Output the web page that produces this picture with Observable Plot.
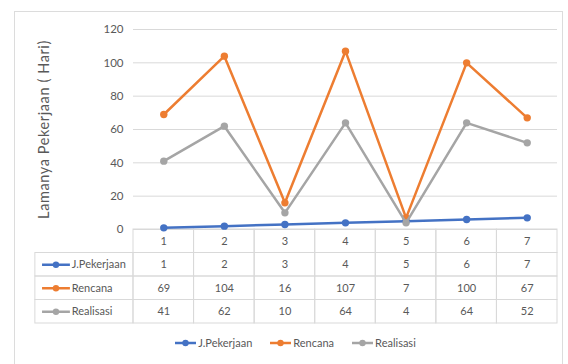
<!DOCTYPE html>
<html>
<head>
<meta charset="utf-8">
<script src="https://cdn.jsdelivr.net/npm/d3@7"></script>
<script src="https://cdn.jsdelivr.net/npm/@observablehq/plot@0.6"></script>
<style>
  html, body { margin: 0; padding: 0; background: #fff; }
  #wrap { position: relative; width: 568px; height: 364px; overflow: hidden; font-family: Lato, "Open Sans", sans-serif; }
  #frame { position: absolute; left: 14px; top: 11px; width: 549px; height: 400px; border: 1px solid #dcdcdc; box-sizing: border-box; }
  #table, #chart { position: absolute; left: 0; }
  #table { top: 228px; }
  #chart { top: 0; }
  #legend { position: absolute; top: 336px; left: 0; width: 568px; display: flex; justify-content: center; gap: 18px; font-size: 11px; color: #595959; padding-left: 23px; box-sizing: border-box; }
  #legend .item { display: flex; align-items: center; }
  #legend svg { display: block; margin-right: 2px; }
  .ytitle text { letter-spacing: 0.6px; }
</style>
</head>
<body>
<div id="wrap">
  <div id="frame"></div>
  <div id="table"></div>
  <div id="chart"></div>
  <div id="legend"></div>
</div>
<script>
const categories = [1, 2, 3, 4, 5, 6, 7];
const pekerjaan = [1, 2, 3, 4, 5, 6, 7];
const rencana = [69, 104, 16, 107, 7, 100, 67];
const realisasi = [41, 62, 10, 64, 4, 64, 52];
const seriesNames = ["J.Pekerjaan", "Rencana", "Realisasi"];
const seriesValues = [pekerjaan, rencana, realisasi];
const seriesColors = ["#4472C4", "#ED7D31", "#A5A5A5"];
const yTicks = [0, 20, 40, 60, 80, 100, 120];
const yTitle = "Lamanya Pekerjaan ( Hari)";

const LABEL_SPAN = 1.62; // label column width, in data-column units
const textColor = "#595959";
const gridColor = "#d9d9d9";
const fontFamily = "Lato, 'Open Sans', sans-serif";

const data = seriesNames.flatMap((s, si) =>
  categories.map((c, i) => ({ series: s, si, cat: c, value: seriesValues[si][i] }))
);

const colorScale = { domain: seriesNames, range: seriesColors };

// Chart
const seriesMarks = seriesNames.flatMap((s) => [
  Plot.line(data.filter(d => d.series === s), { x: d => d.cat - 0.5, y: "value", stroke: "series", strokeWidth: 2.5 }),
  Plot.dot(data.filter(d => d.series === s), { x: d => d.cat - 0.5, y: "value", fill: "series", r: 3.7 })
]);

const chart = Plot.plot({
  width: 568, height: 240,
  marginLeft: 133, marginRight: 11, marginTop: 29, marginBottom: 11,
  style: { background: "transparent", fontFamily, fontSize: "11.5px", color: textColor, overflow: "visible" },
  x: { domain: [0, 7], axis: null },
  y: { domain: [0, 120], ticks: yTicks, tickSize: 0, tickPadding: 10, label: null },
  color: colorScale,
  marks: [
    Plot.ruleY(yTicks, { stroke: gridColor, strokeWidth: 1 }),
    Plot.text([yTitle], { frameAnchor: "left", textAnchor: "middle", rotate: -90, dx: -89, text: d => d, fill: textColor, fontSize: 14.5, className: "ytitle" }),
    ...seriesMarks
  ]
});
document.getElementById("chart").appendChild(chart);

// Data table under the chart
const rows = ["", ...seriesNames];
const cells = rows.flatMap((r, ri) => categories.map((c, ci) => ({ row: ri, cat: c, text: ri === 0 ? String(c) : String(seriesValues[ri - 1][ci]) })));
const labelCells = seriesNames.map((s, si) => ({ row: si + 1, series: s }));

const table = Plot.plot({
  width: 568, height: 96,
  marginLeft: 133, marginRight: 11, marginTop: 1, marginBottom: 1,
  style: { background: "transparent", fontFamily, fontSize: "11px", color: textColor, overflow: "visible" },
  x: { domain: [0, 7], axis: null },
  y: { domain: [0, 4], reverse: true, axis: null },
  color: colorScale,
  marks: [
    Plot.rect(cells, { x1: d => d.cat - 1, x2: d => d.cat, y1: d => d.row, y2: d => d.row + 1, fill: "none", stroke: gridColor }),
    Plot.rect(labelCells, { x1: -LABEL_SPAN, x2: 0, y1: d => d.row, y2: d => d.row + 1, fill: "none", stroke: gridColor }),
    Plot.text(cells, { x: d => d.cat - 0.5, y: d => d.row + 0.5, text: "text", fill: textColor }),
    Plot.link(labelCells, { x1: -LABEL_SPAN + 0.11, x2: -LABEL_SPAN + 0.57, y1: d => d.row + 0.5, y2: d => d.row + 0.5, stroke: "series", strokeWidth: 2.5 }),
    Plot.dot(labelCells, { x: -LABEL_SPAN + 0.34, y: d => d.row + 0.5, fill: "series", r: 3.2 }),
    Plot.text(labelCells, { x: -LABEL_SPAN + 0.6, y: d => d.row + 0.5, text: "series", textAnchor: "start", fill: textColor })
  ]
});
document.getElementById("table").appendChild(table);

// Bottom legend
const legend = document.getElementById("legend");
seriesNames.forEach((s, i) => {
  const item = document.createElement("div");
  item.className = "item";
  item.innerHTML = `<svg width="21" height="10"><line x1="0" y1="5" x2="21" y2="5" stroke="${seriesColors[i]}" stroke-width="2.5"/><circle cx="10.5" cy="5" r="3.2" fill="${seriesColors[i]}"/></svg><span>${s}</span>`;
  legend.appendChild(item);
});
</script>
</body>
</html>
